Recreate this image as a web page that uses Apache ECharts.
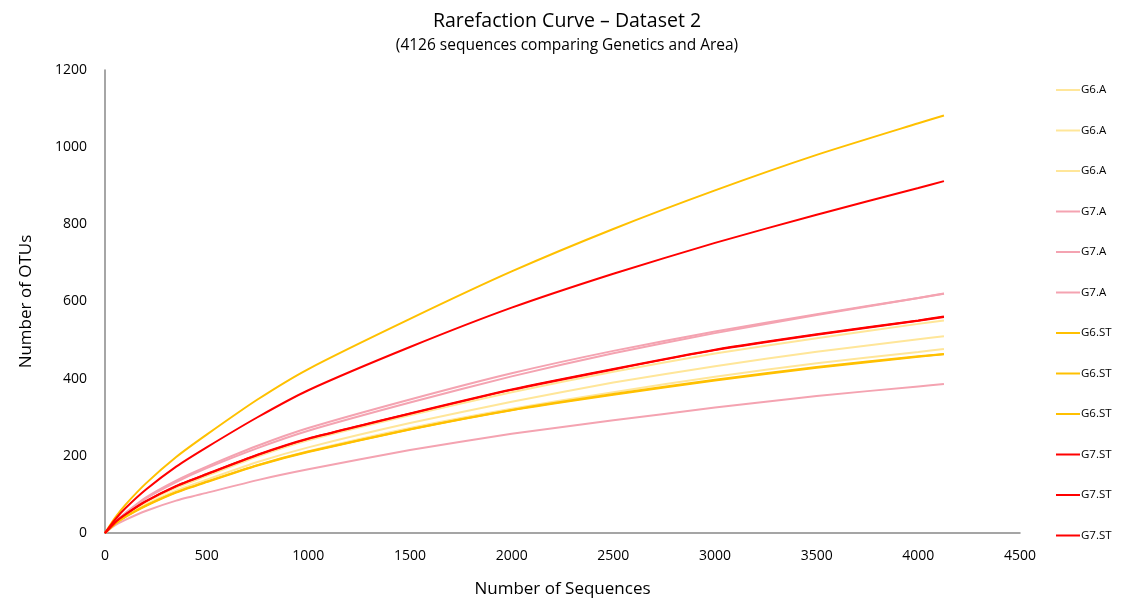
<!DOCTYPE html>
<html>
<head>
<meta charset="utf-8">
<script src="https://cdn.jsdelivr.net/npm/echarts@6/dist/echarts.min.js"></script>
<style>html,body{margin:0;padding:0;background:#fff;}#c{width:1122px;height:603px;}</style>
</head>
<body>
<div id="c"></div>
<script>
// Sequence depths (x)
var depths = [0, 50, 100, 200, 350, 500, 750, 1000, 1500, 2000, 2500, 3000, 3500, 4000, 4126];

// Series names (legend order)
var seriesNames = ['G6.A', 'G6.A', 'G6.A', 'G7.A', 'G7.A', 'G7.A', 'G6.ST', 'G6.ST', 'G6.ST', 'G7.ST', 'G7.ST', 'G7.ST'];

// OTU counts per series
var g6a1 = [0, 27, 47, 80, 118, 148, 198, 240, 305, 365, 418, 465, 505, 542, 551];
var g6a2 = [0, 25, 44, 74, 110, 138, 184, 222, 285, 340, 390, 432, 470, 502, 510];
var g6a3 = [0, 24, 42, 71, 106, 133, 176, 212, 272, 322, 365, 405, 440, 469, 477];
var g7a1 = [0, 30, 52, 92, 136, 172, 226, 272, 346, 414, 472, 522, 567, 609, 620];
var g7a2 = [0, 29, 50, 89, 132, 168, 220, 265, 338, 406, 466, 518, 565, 609, 621];
var g7a3 = [0, 20, 34, 57, 84, 104, 137, 165, 215, 257, 292, 325, 355, 380, 386];
var g6st1 = [0, 40, 73, 128, 197, 255, 346, 425, 555, 678, 788, 888, 980, 1062, 1082];
var g6st2 = [0, 24, 42, 70, 105, 132, 175, 210, 268, 318, 358, 395, 428, 457, 463];
var g6st3 = [0, 24, 42, 71, 106, 133, 176, 211, 269, 319, 360, 397, 430, 458, 464];
var g7st1 = [0, 35, 64, 112, 172, 222, 300, 370, 482, 584, 672, 752, 825, 894, 912];
var g7st2 = [0, 28, 48, 82, 122, 153, 203, 245, 310, 372, 425, 475, 515, 551, 561];
var g7st3 = [0, 28, 48, 82, 121, 152, 202, 244, 309, 371, 424, 474, 514, 550, 560];

var seriesValues = [g6a1, g6a2, g6a3, g7a1, g7a2, g7a3, g6st1, g6st2, g6st3, g7st1, g7st2, g7st3];
var colorMap = {'G6.A': '#FFE699', 'G7.A': '#F4A3B1', 'G6.ST': '#FFC000', 'G7.ST': '#FF0000'};

var chart = echarts.init(document.getElementById('c'));
var font = '"Open Sans", "Liberation Sans", sans-serif';

var series = seriesNames.map(function (n, i) {
  return {
    name: n,
    type: 'line',
    smooth: 0.2,
    showSymbol: false,
    symbol: 'none',
    z: 2 + i,
    lineStyle: {width: 2, color: colorMap[n]},
    itemStyle: {color: colorMap[n]},
    data: depths.map(function (d, j) { return [d, seriesValues[i][j]]; })
  };
});

// One legend component per entry so that repeated names each get their own row
var legends = seriesNames.map(function (n, i) {
  return {
    orient: 'vertical', left: 1051, top: 79 + i * 40.5,
    itemWidth: 24, itemHeight: 10,
    icon: 'path://M0,4 L24,4 L24,6 L0,6 Z',
    selectedMode: false,
    textStyle: {fontFamily: font, fontSize: 11.5, color: '#000', padding: [0, 0, 0, -4]},
    data: [{name: n}]
  };
});

chart.setOption({
  animation: false,
  backgroundColor: '#fff',
  title: {
    text: 'Rarefaction Curve \u2013 Dataset 2',
    subtext: '(4126 sequences comparing Genetics and Area)',
    left: 562, textAlign: 'center', top: 6, itemGap: 7,
    textStyle: {fontFamily: font, fontSize: 19.5, fontWeight: 'normal', color: '#000'},
    subtextStyle: {fontFamily: font, fontSize: 15.5, color: '#000'}
  },
  legend: legends,
  grid: {left: 105, right: 102, top: 70, bottom: 67, containLabel: false},
  xAxis: {
    type: 'value', min: 0, max: 4500, interval: 500,
    name: 'Number of Sequences', nameLocation: 'middle', nameGap: 48,
    nameTextStyle: {fontFamily: font, fontSize: 17, color: '#000'},
    axisLine: {lineStyle: {color: '#888', width: 1.5}},
    axisTick: {show: false},
    splitLine: {show: false},
    axisLabel: {fontFamily: font, fontSize: 14, color: '#000', margin: 16,
      formatter: function (v) { return String(v); }}
  },
  yAxis: {
    type: 'value', min: 0, max: 1200, interval: 200,
    name: 'Number of OTUs', nameLocation: 'middle', nameGap: 70,
    nameTextStyle: {fontFamily: font, fontSize: 17, color: '#000'},
    axisLine: {show: true, lineStyle: {color: '#888', width: 1.5}},
    axisTick: {show: false},
    splitLine: {show: false},
    axisLabel: {fontFamily: font, fontSize: 14, color: '#000', margin: 18,
      formatter: function (v) { return String(v); }}
  },
  series: series
});
</script>
</body>
</html>
